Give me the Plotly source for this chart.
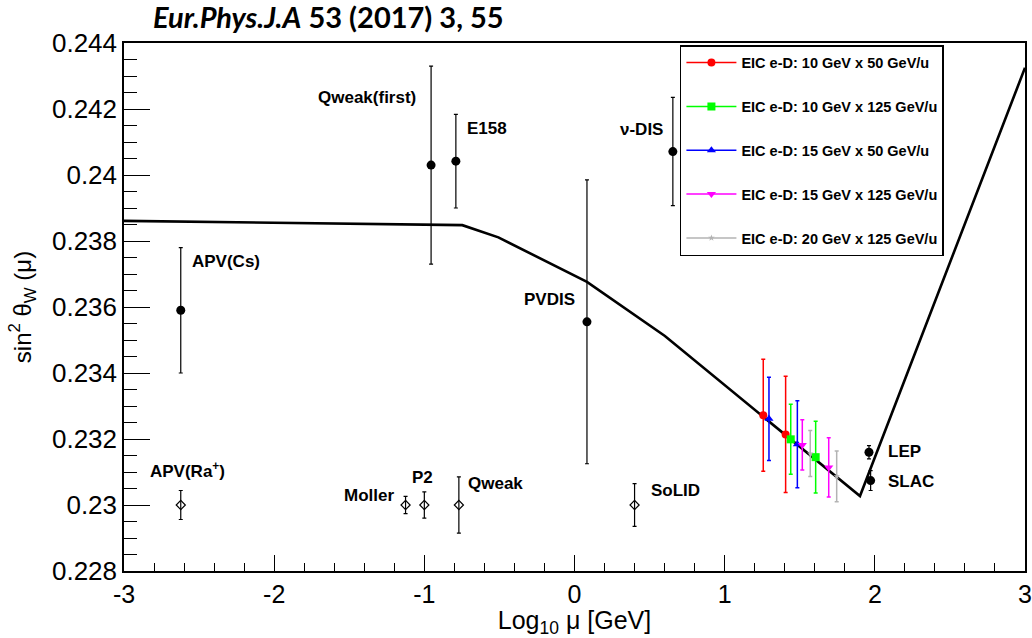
import plotly.graph_objects as go

# ---- Running of the weak mixing angle: theory curve (log10 mu [GeV] vs sin^2 theta_W)
curve_logmu = [-3.0, -0.747, -0.507, 0.083, 0.602, 1.901, 3.0]
curve_s2w = [0.23861, 0.23848, 0.23811, 0.23676, 0.23512, 0.23027, 0.24325]

# ---- Existing measurements
meas_names = ["APV(Cs)", "Qweak(first)", "E158", "ν-DIS", "PVDIS", "LEP", "SLAC"]
meas_logmu = [-2.622, -0.955, -0.790, 0.655, 0.083, 1.961, 1.972]
meas_s2w = [0.23590, 0.24030, 0.24042, 0.24071, 0.23555, 0.23160, 0.23074]
meas_err = [0.00190, 0.00300, 0.00142, 0.00164, 0.00430, 0.00020, 0.00030]

# ---- Future experiments (projected uncertainties)
fut_names = ["APV(Ra<sup>+</sup>)", "Moller", "P2", "Qweak", "SoLID"]
fut_logmu = [-2.622, -1.125, -1.000, -0.770, 0.400]
fut_s2w = [0.2300, 0.2300, 0.2300, 0.2300, 0.2300]
fut_err = [0.00044, 0.00026, 0.00040, 0.00085, 0.00065]

# ---- EIC e-D projections
eic_names = [
    "EIC e-D: 10 GeV x 50 GeV/u",
    "EIC e-D: 10 GeV x 125 GeV/u",
    "EIC e-D: 15 GeV x 50 GeV/u",
    "EIC e-D: 15 GeV x 125 GeV/u",
    "EIC e-D: 20 GeV x 125 GeV/u",
]
eic_logmu = [
    [1.257, 1.406],
    [1.440, 1.606],
    [1.295, 1.484],
    [1.517, 1.693],
    [1.570, 1.746],
]
eic_s2w = [
    [0.23272, 0.23214],
    [0.23199, 0.23145],
    [0.23261, 0.23184],
    [0.23182, 0.23114],
    [0.23156, 0.23087],
]
eic_err = [
    [0.00170, 0.00176],
    [0.00106, 0.00109],
    [0.00126, 0.00132],
    [0.00076, 0.00090],
    [0.00070, 0.00077],
]
eic_colors = ["#ff0000", "#00ff00", "#0000ff", "#ff00ff", "#b3b3b3"]
eic_symbols = ["circle", "square", "triangle-up", "triangle-down", "star"]
eic_sizes = [8, 8, 8, 8, 5]

# ---- Axis ticks
x_tickvals = [-3, -2, -1, 0, 1, 2, 3]
x_ticktext = ["-3", "-2", "-1", "0", "1", "2", "3"]
y_tickvals = [0.228, 0.230, 0.232, 0.234, 0.236, 0.238, 0.240, 0.242, 0.244]
y_ticktext = ["0.228", "0.23", "0.232", "0.234", "0.236", "0.238", "0.24", "0.242", "0.244"]

FONT = "Liberation Sans, Arial, Helvetica, sans-serif"

fig = go.Figure()

# theory curve
fig.add_trace(go.Scatter(
    x=curve_logmu, y=curve_s2w, mode="lines",
    line=dict(color="black", width=2.6), showlegend=False, hoverinfo="skip",
))

# existing measurements
fig.add_trace(go.Scatter(
    x=meas_logmu, y=meas_s2w, mode="markers",
    marker=dict(symbol="circle", size=9, color="black"),
    error_y=dict(type="data", array=meas_err, color="black", thickness=1.2, width=2),
    showlegend=False,
))

# future experiments
fig.add_trace(go.Scatter(
    x=fut_logmu, y=fut_s2w, mode="markers",
    marker=dict(symbol="diamond-open", size=7, color="black", line=dict(width=1.2)),
    error_y=dict(type="data", array=fut_err, color="black", thickness=1.2, width=2),
    showlegend=False,
))

# EIC projections (points) and matching legend entries
for i, name in enumerate(eic_names):
    fig.add_trace(go.Scatter(
        x=eic_logmu[i], y=eic_s2w[i], mode="markers",
        marker=dict(symbol=eic_symbols[i], size=eic_sizes[i], color=eic_colors[i]),
        error_y=dict(type="data", array=eic_err[i], color=eic_colors[i], thickness=1.5, width=2),
        showlegend=False, legendgroup=f"g{i}",
    ))
    fig.add_trace(go.Scatter(
        x=[None], y=[None], mode="lines+markers", name=f"<b>{name}</b>",
        line=dict(color=eic_colors[i], width=1.5),
        marker=dict(symbol=eic_symbols[i], size=eic_sizes[i], color=eic_colors[i]),
        legendgroup=f"g{i}", showlegend=True,
    ))

# point labels: (x shift px, y shift px, anchor)
meas_label_pos = {
    "APV(Cs)": (9, 49, "left"),
    "Qweak(first)": (-13, 68, "right"),
    "E158": (9, 33, "left"),
    "ν-DIS": (-8, 22, "right"),
    "PVDIS": (-10, 22, "right"),
    "LEP": (17, 1, "left"),
    "SLAC": (15, -1, "left"),
}
for name, xv, yv in zip(meas_names, meas_logmu, meas_s2w):
    dx, dy, anc = meas_label_pos[name]
    fig.add_annotation(x=xv, y=yv, text=f"<b>{name}</b>", showarrow=False,
                       xanchor=anc, yanchor="middle", xshift=dx, yshift=dy,
                       font=dict(family=FONT, size=17, color="black"))

fut_label_pos = {
    "APV(Ra<sup>+</sup>)": (-33, 35, "left"),
    "Moller": (-10, 10, "right"),
    "P2": (-2, 28, "center"),
    "Qweak": (7, 22, "left"),
    "SoLID": (14, 15, "left"),
}
for name, xv, yv in zip(fut_names, fut_logmu, fut_s2w):
    dx, dy, anc = fut_label_pos[name]
    fig.add_annotation(x=xv, y=yv, text=f"<b>{name}</b>", showarrow=False,
                       xanchor=anc, yanchor="middle", xshift=dx, yshift=dy,
                       font=dict(family=FONT, size=17, color="black"))

# reference line above the frame
fig.add_annotation(xref="paper", yref="paper", x=0.03, y=1.051,
                   text="<b><i>Eur.Phys.J.A</i> 53 (2017) 3, 55</b>",
                   showarrow=False, xanchor="left", yanchor="middle",
                   font=dict(family="Lato, Open Sans, sans-serif", size=29, color="black"))

fig.update_layout(
    width=1032, height=638,
    margin=dict(l=124, r=7, t=43, b=67, autoexpand=False),
    paper_bgcolor="white", plot_bgcolor="white",
    font=dict(family=FONT, color="black"),
    legend=dict(
        x=0.617, y=0.996, xanchor="left", yanchor="top",
        bordercolor="black", borderwidth=1.5, bgcolor="white",
        font=dict(family=FONT, size=14.5, color="black"),
        traceorder="grouped", tracegroupgap=22,
        itemwidth=50,
    ),
    xaxis=dict(
        range=[-3, 3], showgrid=False, zeroline=False, automargin=False,
        showline=True, linecolor="black", linewidth=1.5, mirror=True,
        ticks="inside", ticklen=16, tickwidth=1.2, tickcolor="black",
        tickvals=x_tickvals, ticktext=x_ticktext,
        tickfont=dict(family=FONT, size=25),
        minor=dict(dtick=0.2, ticks="inside", ticklen=8, tickwidth=1.2, tickcolor="black"),
        title=dict(text="Log<sub>10</sub> μ [GeV]", font=dict(family=FONT, size=25), standoff=4),
    ),
    yaxis=dict(
        range=[0.228, 0.244], showgrid=False, zeroline=False, automargin=False,
        showline=True, linecolor="black", linewidth=1.5, mirror=True,
        ticks="inside", ticklen=26, tickwidth=1.2, tickcolor="black",
        tickvals=y_tickvals, ticktext=y_ticktext,
        tickfont=dict(family=FONT, size=26),
        minor=dict(dtick=0.0005, ticks="inside", ticklen=13, tickwidth=1.2, tickcolor="black"),
        title=dict(text="sin<sup>2</sup> θ<sub>W</sub> (μ)", font=dict(family=FONT, size=24), standoff=14),
    ),
)

fig.write_html("out.html")
